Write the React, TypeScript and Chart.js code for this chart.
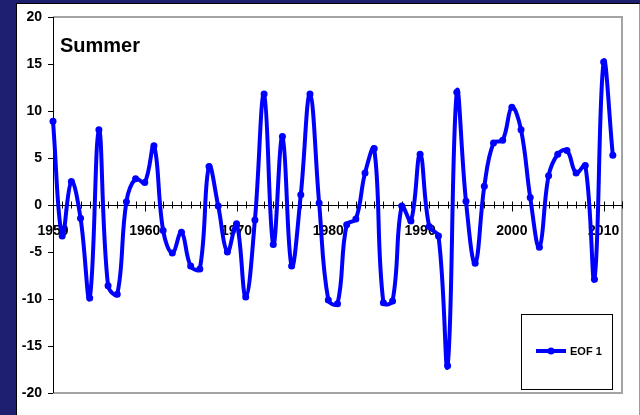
import { useEffect, useRef } from 'react';
import { Chart, registerables } from 'chart.js';

Chart.register(...registerables);

// Years on the category axis (the axis runs one year past the last value)
const years: string[] = [
  '1950', '1951', '1952', '1953', '1954', '1955', '1956', '1957', '1958', '1959',
  '1960', '1961', '1962', '1963', '1964', '1965', '1966', '1967', '1968', '1969',
  '1970', '1971', '1972', '1973', '1974', '1975', '1976', '1977', '1978', '1979',
  '1980', '1981', '1982', '1983', '1984', '1985', '1986', '1987', '1988', '1989',
  '1990', '1991', '1992', '1993', '1994', '1995', '1996', '1997', '1998', '1999',
  '2000', '2001', '2002', '2003', '2004', '2005', '2006', '2007', '2008', '2009',
  '2010', '2011', '2012',
];

// First EOF amplitude, summer season
const eof1: (number | null)[] = [
  8.9, -3.3, 2.5, -1.4, -9.9, 8.0, -8.6, -9.5, 0.35, 2.8,
  2.4, 6.3, -2.7, -5.1, -2.9, -6.5, -6.8, 4.1, -0.1, -5.0,
  -2.0, -9.8, -1.6, 11.8, -4.2, 7.3, -6.5, 1.1, 11.8, 0.2,
  -10.1, -10.5, -2.1, -1.5, 3.4, 6.0, -10.4, -10.2, -0.1, -1.7,
  5.4, -2.3, -3.3, -17.1, 12.0, 0.4, -6.2, 2.0, 6.6, 6.9,
  10.4, 8.0, 0.8, -4.5, 3.1, 5.4, 5.8, 3.4, 4.2, -7.9,
  15.2, 5.3, null,
];

const yTicks = { min: -20, max: 20, step: 5 };
const seriesLabel = 'EOF 1';
const panelTitle = 'Summer';

const FONT = '"Liberation Sans", Arial, sans-serif';
const BLUE = '#0000ff';

// Plot frame, the zero axis with its crossing tick marks
const axesPlugin = {
  id: 'axesFrame',
  beforeDatasetsDraw(chart: any) {
    const { ctx, chartArea: a, scales } = chart;
    const xs = scales.x;
    const ys = scales.y;
    ctx.save();
    ctx.strokeStyle = '#a3a3a3';
    ctx.lineWidth = 2;
    ctx.beginPath();
    ctx.moveTo(a.left, a.top);
    ctx.lineTo(a.right, a.top);
    ctx.lineTo(a.right, a.bottom);
    ctx.lineTo(a.left, a.bottom);
    ctx.stroke();

    const y0 = Math.round(ys.getPixelForValue(0)) + 0.5;
    ctx.strokeStyle = '#000';
    ctx.lineWidth = 1;
    ctx.beginPath();
    ctx.moveTo(a.left, y0);
    ctx.lineTo(a.right, y0);
    for (let i = 0; i < years.length; i++) {
      const px = Math.round(xs.getPixelForValue(i)) + 0.5;
      const major = Number(years[i]) % 10 === 0;
      ctx.moveTo(px, y0 - 4);
      ctx.lineTo(px, y0 + (major ? 6 : 3));
    }
    ctx.stroke();

    // left value axis line
    ctx.beginPath();
    ctx.moveTo(a.left + 0.5, a.top);
    ctx.lineTo(a.left + 0.5, a.bottom);
    ctx.stroke();
    ctx.restore();
  },
  afterDraw(chart: any) {
    const { ctx, chartArea: a } = chart;
    ctx.save();
    // panel title
    ctx.fillStyle = '#000';
    ctx.font = `bold 20px ${FONT}`;
    ctx.textAlign = 'left';
    ctx.textBaseline = 'alphabetic';
    ctx.fillText(panelTitle, a.left + 7, a.top + 35);

    // legend box in the lower right corner
    const bx = a.right - 101;
    const by = a.bottom - 79;
    const bw = 91;
    const bh = 75;
    ctx.fillStyle = '#fff';
    ctx.fillRect(bx, by, bw, bh);
    ctx.strokeStyle = '#000';
    ctx.lineWidth = 1;
    ctx.strokeRect(bx + 0.5, by + 0.5, bw, bh);
    const ly = by + 37;
    ctx.strokeStyle = BLUE;
    ctx.lineWidth = 4;
    ctx.beginPath();
    ctx.moveTo(bx + 15, ly);
    ctx.lineTo(bx + 45, ly);
    ctx.stroke();
    ctx.fillStyle = BLUE;
    ctx.beginPath();
    ctx.arc(bx + 30, ly, 3.5, 0, Math.PI * 2);
    ctx.fill();
    ctx.fillStyle = '#000';
    ctx.font = `bold 11px ${FONT}`;
    ctx.textBaseline = 'middle';
    ctx.fillText(seriesLabel, bx + 49, ly + 1);
    ctx.restore();
  },
};

export default function App() {
  const canvasRef = useRef<HTMLCanvasElement | null>(null);

  useEffect(() => {
    document.body.style.margin = '0';
    const canvas = canvasRef.current;
    if (!canvas) return;
    const chart = new Chart(canvas, {
      type: 'line',
      data: {
        labels: years,
        datasets: [
          {
            label: seriesLabel,
            data: eof1,
            borderColor: BLUE,
            backgroundColor: BLUE,
            borderWidth: 4,
            tension: 0.4,
            pointRadius: 3.5,
            pointBorderWidth: 0,
            pointBackgroundColor: BLUE,
            fill: false,
          },
        ],
      },
      options: {
        responsive: false,
        animation: false,
        devicePixelRatio: 1,
        layout: { padding: { left: 0, top: 17, right: 17, bottom: 22 } },
        plugins: {
          legend: { display: false },
          tooltip: { enabled: false },
          title: { display: false },
        },
        scales: {
          x: {
            type: 'category',
            position: { y: 0 } as any,
            offset: false,
            grid: { display: false, drawTicks: false },
            border: { display: false },
            ticks: {
              autoSkip: false,
              maxRotation: 0,
              minRotation: 0,
              padding: 18,
              color: '#000',
              font: { family: FONT, size: 14, weight: 'bold' },
              callback: (_v: any, i: number) =>
                Number(years[i]) % 10 === 0 ? years[i] : '',
            },
          },
          y: {
            type: 'linear',
            position: 'left',
            min: yTicks.min,
            max: yTicks.max,
            afterFit: (scale: any) => {
              scale.width = 53;
            },
            grid: {
              display: true,
              drawOnChartArea: false,
              drawTicks: true,
              tickLength: 5,
              color: '#000',
            },
            border: { display: true, color: '#000', width: 1 },
            ticks: {
              stepSize: yTicks.step,
              padding: 6,
              color: '#000',
              font: { family: FONT, size: 14, weight: 'bold' },
            },
          },
        },
      },
      plugins: [axesPlugin],
    });
    return () => chart.destroy();
  }, []);

  return (
    <div
      style={{
        position: 'fixed',
        left: 0,
        top: 0,
        width: 640,
        height: 415,
        background: '#1f1f70',
        overflow: 'hidden',
      }}
    >
      <div
        style={{
          position: 'absolute',
          left: 16,
          top: 3,
          width: 622,
          height: 420,
          background: '#fff',
          borderTop: '1px solid #000',
          borderLeft: '1px solid #000',
          borderRight: '2px solid #9a9a9a',
        }}
      />
      <canvas
        ref={canvasRef}
        width={640}
        height={415}
        style={{ position: 'absolute', left: 0, top: 0, width: 640, height: 415 }}
      />
    </div>
  );
}
